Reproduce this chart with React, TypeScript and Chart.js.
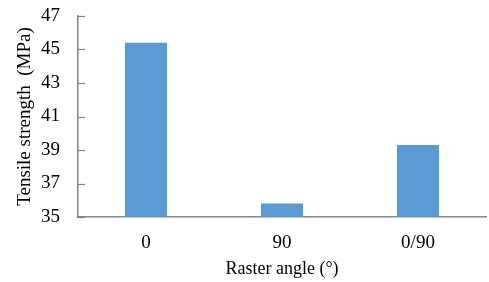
import React, { useEffect, useRef } from "react";
import { Chart, registerables } from "chart.js";

Chart.register(...registerables);

const categories = ["0", "90", "0/90"];
const strengths = [45.4, 35.8, 39.3];
const yMin = 35;
const yMax = 47;
const yStep = 2;
const yTitle = "Tensile strength  (MPa)";
const xTitle = "Raster angle (°)";

const FONT = "'Liberation Serif', 'Times New Roman', serif";
const AXIS = "#868686";

const innerTicks = {
  id: "innerTicks",
  afterDraw(chart: any) {
    const y = chart.scales.y;
    const { ctx, chartArea } = chart;
    ctx.save();
    ctx.strokeStyle = AXIS;
    ctx.lineWidth = 1.2;
    y.ticks.forEach((t: any) => {
      const py = Math.round(y.getPixelForValue(t.value)) + 0.5;
      ctx.beginPath();
      ctx.moveTo(chartArea.left, py);
      ctx.lineTo(chartArea.left + 7, py);
      ctx.stroke();
    });
    ctx.restore();
  },
};

export default function App() {
  const ref = useRef<HTMLCanvasElement>(null);
  useEffect(() => {
    document.body.style.margin = "0";
    const chart = new Chart(ref.current!, {
      type: "bar",
      data: {
        labels: categories,
        datasets: [
          {
            data: strengths,
            backgroundColor: "#5B9BD5",
            categoryPercentage: 1,
            barPercentage: 0.31,
          },
        ],
      },
      options: {
        animation: false,
        responsive: false,
        layout: { padding: { top: 0, right: 3, left: 0, bottom: 2 } },
        plugins: { legend: { display: false }, tooltip: { enabled: false } },
        scales: {
          x: {
            grid: { display: true, drawOnChartArea: false, drawTicks: false },
            border: { display: true, color: AXIS, width: 1.5 },
            ticks: { color: "#000", font: { family: FONT, size: 19 }, padding: 15 },
            title: {
              display: true,
              text: xTitle,
              color: "#000",
              font: { family: FONT, size: 18 },
              padding: { top: 4, bottom: 0 },
            },
            afterFit(s: any) {
              s.height = 63;
            },
          },
          y: {
            min: yMin,
            max: yMax,
            grid: { display: true, drawOnChartArea: false, drawTicks: false },
            border: { display: true, color: AXIS, width: 1.5 },
            ticks: {
              stepSize: yStep,
              color: "#000",
              font: { family: FONT, size: 19 },
              padding: 18,
            },
            title: {
              display: true,
              text: yTitle,
              color: "#000",
              font: { family: FONT, size: 19 },
              padding: { top: 14, bottom: 4 },
            },
            afterFit(s: any) {
              s.width = 78;
              s.paddingTop = 16;
              s.paddingBottom = 0;
            },
          },
        },
      },
      plugins: [innerTicks],
    });
    return () => chart.destroy();
  }, []);
  return (
    <div style={{ width: 489, height: 282 }}>
      <canvas ref={ref} width={489} height={282} />
    </div>
  );
}
